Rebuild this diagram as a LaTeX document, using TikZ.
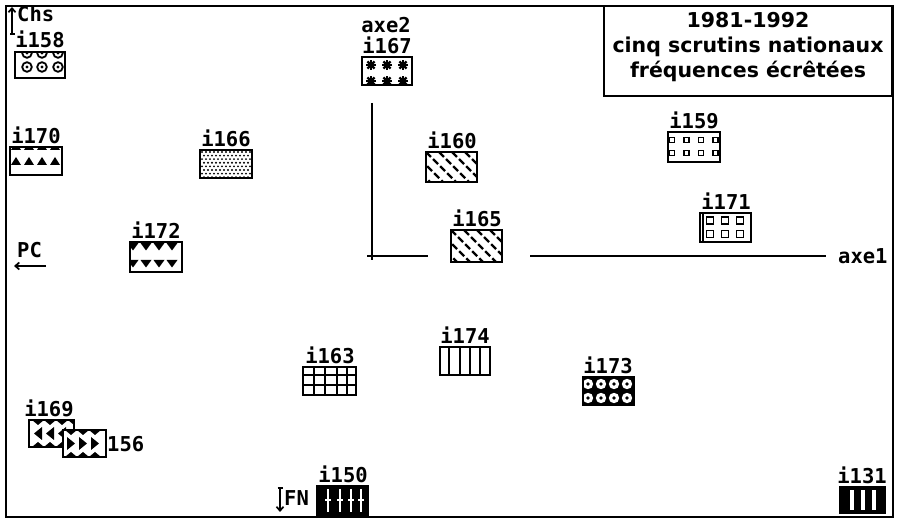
\documentclass[tikz,border=0pt]{standalone}
\usepackage{fontspec}
\setmainfont{DejaVu Sans}
\newfontfamily\lblfont{DejaVu Sans Mono}
\usetikzlibrary{arrows.meta}
\tikzset{
 bx/.style={draw, line width=2.2pt, inner sep=0pt, outer sep=0pt},
 lbl/.style={font=\lblfont\bfseries\fontsize{20.5}{20.5}\selectfont, inner sep=0pt, anchor=base},
 ttl/.style={font=\bfseries\fontsize{20.5}{20.5}\selectfont, inner sep=0pt, anchor=base},
 axisline/.style={line width=2.2pt},
 arr/.style={line width=1.7pt, -{Straight Barb[length=4pt,width=7pt]}},
 barr/.style={line width=1.7pt, {Bar[width=5pt]}-{Straight Barb[length=4pt,width=7pt]}},
 pat/.style={line width=1.8pt},
 hatch/.style={line width=2.4pt, dash pattern=on 7pt off 3pt},
}
\newcommand\pbox[6]{%
  \def\X{#2}\def\Y{#3}%
  \begin{scope}
    \fill[white] (#2,#3) rectangle (#4,#5);
    \clip (#2,#3) rectangle (#4,#5);
    #6
  \end{scope}
  \node[bx, minimum width={(#4-#2)*1pt}, minimum height={(#5-#3)*1pt}] (#1) at ({(#2+#4)/2},{(#3+#5)/2}) {};
}
\begin{document}
\begin{tikzpicture}[x=1pt,y=-1pt]
\useasboundingbox (0,0) rectangle (898,521);
\fill[white] (0,0) rectangle (898,521);
% frame
\draw[line width=2.8pt] (6,6) rectangle (893,517);
% title
\node[bx, minimum width=288pt, minimum height=90pt] (title) at (748,51) {};
\node[ttl] (t1) at (748,28) {1981-1992};
\node[ttl] (t2) at (748,53) {cinq scrutins nationaux};
\node[ttl] (t3) at (748,78) {fréquences écrêtées};
% axes
\coordinate (v1) at (372,103);
\coordinate (v0) at (372,260);
\coordinate (h1) at (367,256);
\coordinate (h2) at (428,256);
\coordinate (h3) at (530,256);
\coordinate (h4) at (826,256);
\draw[axisline] (v1) -- (v0);
\draw[axisline] (h1) -- (h2);
\draw[axisline] (h3) -- (h4);
\node[lbl, anchor=base west] (axe1) at (838,264) {axe1};
\node[lbl] (axe2) at (386,33) {axe2};
% side arrows
\node[lbl, anchor=base west] (chs) at (17,22) {Chs};
\coordinate (chsA) at (12,35);
\coordinate (chsB) at (12,7);
\draw[barr] (chsA) -- (chsB);
\node[lbl, anchor=base west] (pc) at (17,258) {PC};
\coordinate (pcA) at (46,266);
\coordinate (pcB) at (14,266);
\draw[arr] (pcA) -- (pcB);
\node[lbl, anchor=base west] (fn) at (284,506) {FN};
\coordinate (fnA) at (280,487);
\coordinate (fnB) at (280,512);
\draw[barr] (fnA) -- (fnB);
% boxes
\pbox{b158}{15}{52}{65}{78}{%
  \foreach \cx in {12,27,43} \foreach \ry in {1,15} {
    \draw[pat] (\X+\cx,\Y+\ry) circle[radius=4.8];
    \fill (\X+\cx,\Y+\ry) circle[radius=1.6];}}
\node[lbl] (l158) at (40,48) {i158};
\pbox{b167}{362}{57}{412}{85}{%
  \foreach \cx in {9,25,41} \foreach \ry in {8,24} \foreach \a in {0,45,90,135} {
    \draw[line width=2.2pt] (\X+\cx,\Y+\ry) ++(\a:5) -- ++(\a+180:10);}}
\node[lbl] (l167) at (387,54) {i167};
\pbox{b170}{10}{147}{62}{175}{%
  \foreach \cx in {6,19,32,45,58} {
    \fill (\X+\cx-5,\Y+18) -- (\X+\cx+5,\Y+18) -- (\X+\cx,\Y+10) -- cycle;
    \fill (\X+\cx-5,\Y+3) -- (\X+\cx+5,\Y+3) -- (\X+\cx,\Y-5) -- cycle;}}
\node[lbl] (l170) at (36,144) {i170};
\pbox{b166}{200}{150}{252}{178}{%
  \foreach \i in {0,...,13} \foreach \j in {0,...,7} {
    \fill ({\X+2+4*\i+2*mod(\j,2)},{\Y+2+3.6*\j}) circle[radius=1.05];}}
\node[lbl] (l166) at (226,147) {i166};
\pbox{b160}{426}{152}{477}{182}{%
  \foreach \k in {-39,-26,...,60} {
    \draw[hatch] (\X+\k,\Y) -- ++(36,36);}}
\node[lbl] (l160) at (452,149) {i160};
\pbox{b159}{668}{132}{720}{162}{%
  \foreach \cx in {4,18.5,33,47.5} \foreach \ry in {8,21} {
    \draw[line width=1.6pt] (\X+\cx-2.6,\Y+\ry-2.6) rectangle ++(5.2,5.2);}}
\node[lbl] (l159) at (694,129) {i159};
\pbox{b171}{700}{213}{751}{242}{%
  \foreach \cx in {10,25,40} \foreach \ry in {7.5,21} {
    \draw[line width=1.7pt] (\X+\cx-3.5,\Y+\ry-3.5) rectangle ++(7,7);}
  \draw[line width=1.5pt] (\X+3,\Y) -- (\X+3,\Y+29);}
\node[lbl] (l171) at (726,210) {i171};
\pbox{b172}{130}{242}{182}{272}{%
  \foreach \cx in {3,16,29,42} \foreach \ry in {1,18} {
    \fill (\X+\cx-5.5,\Y+\ry) -- (\X+\cx+5.5,\Y+\ry) -- (\X+\cx,\Y+\ry+7.5) -- cycle;}}
\node[lbl] (l172) at (156,239) {i172};
\pbox{b165}{451}{230}{502}{262}{%
  \foreach \k in {-39,-26,...,60} {
    \draw[hatch] (\X+\k,\Y) -- ++(36,36);}}
\node[lbl] (l165) at (477,227) {i165};
\pbox{b174}{440}{347}{490}{375}{%
  \foreach \cx in {9,20,30,40} {
    \draw[pat] (\X+\cx,\Y) -- (\X+\cx,\Y+28);}}
\node[lbl] (l174) at (465,344) {i174};
\pbox{b163}{303}{367}{356}{395}{%
  \foreach \cx in {11,22,34,44} {\draw[pat] (\X+\cx,\Y) -- (\X+\cx,\Y+28);}
  \foreach \ry in {8,18} {\draw[pat] (\X,\Y+\ry) -- (\X+53,\Y+\ry);}}
\node[lbl] (l163) at (330,364) {i163};
\pbox{b173}{583}{377}{634}{405}{%
  \fill (\X,\Y) rectangle (\X+51,\Y+28);
  \foreach \cx in {5,18,31,44} \foreach \ry in {7,21} {
    \fill[white] (\X+\cx,\Y+\ry) circle[radius=5.2];
    \fill (\X+\cx,\Y+\ry) circle[radius=1.8];}}
\node[lbl] (l173) at (608,374) {i173};
\pbox{b169}{29}{420}{74}{447}{%
  \foreach \cx in {9,21,33,45} {
    \fill (\X+\cx-4,\Y+13.5) -- (\X+\cx+4,\Y+7) -- (\X+\cx+4,\Y+20) -- cycle;
    \fill (\X+\cx-6,\Y) -- (\X+\cx+6,\Y) -- (\X+\cx,\Y+5) -- cycle;
    \fill (\X+\cx-6,\Y+27) -- (\X+\cx+6,\Y+27) -- (\X+\cx,\Y+22) -- cycle;}}
\node[lbl] (l169) at (49,417) {i169};
\pbox{b156}{63}{430}{106}{457}{%
  \foreach \cx in {8,20,32} {
    \fill (\X+\cx+4,\Y+13.5) -- (\X+\cx-4,\Y+7) -- (\X+\cx-4,\Y+20) -- cycle;
    \fill (\X+\cx-6,\Y) -- (\X+\cx+6,\Y) -- (\X+\cx,\Y+5) -- cycle;
    \fill (\X+\cx-6,\Y+27) -- (\X+\cx+6,\Y+27) -- (\X+\cx,\Y+22) -- cycle;}}
\node[lbl, anchor=base west] (l156) at (107,452) {156};
\pbox{b150}{317}{486}{368}{515}{%
  \fill (\X,\Y) rectangle (\X+51,\Y+29);
  \foreach \cx in {11,23,34,44} {
    \draw[white, line width=2pt] (\X+\cx,\Y+3) -- (\X+\cx,\Y+26);
    \draw[white, line width=1.6pt] (\X+\cx-3,\Y+14) -- (\X+\cx+3,\Y+14);}}
\node[lbl] (l150) at (343,483) {i150};
\pbox{b131}{840}{487}{885}{513}{%
  \fill (\X,\Y) rectangle (\X+45,\Y+26);
  \foreach \cx in {12,23,34} {
    \fill[white] (\X+\cx-2,\Y+3) rectangle (\X+\cx+2,\Y+23);}}
\node[lbl] (l131) at (862,484) {i131};
\end{tikzpicture}
\end{document}
